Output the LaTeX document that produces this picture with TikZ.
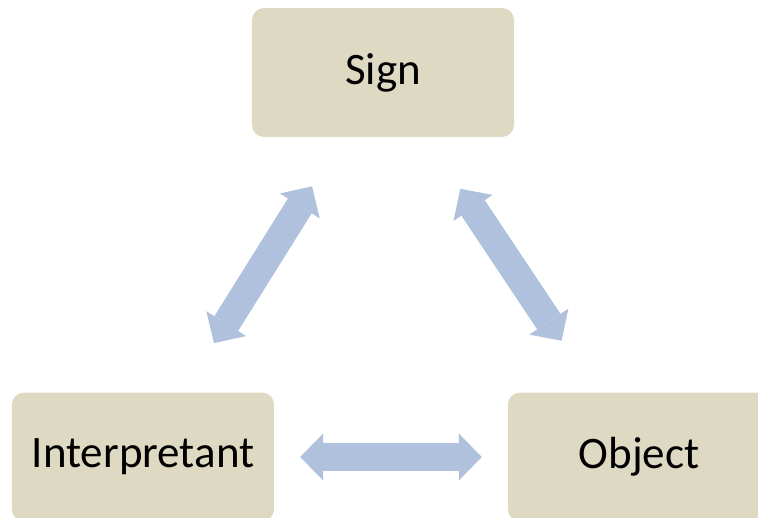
\documentclass[tikz,border=0pt]{standalone}
\usepackage{fontspec}
\setmainfont{Carlito}
\usetikzlibrary{arrows.meta}
\definecolor{boxtan}{RGB}{221,217,195}
\definecolor{linkblue}{RGB}{176,193,221}
\tikzstyle{concept} = [rectangle, rounded corners=12pt, minimum width=262pt, minimum height=129pt, text centered, fill=boxtan, font=\fontsize{45}{54}\selectfont]
\tikzstyle{link} = [draw=linkblue, line width=28pt, {Triangle[width=47pt,length=23pt,line width=0pt]}-{Triangle[width=47pt,length=23pt,line width=0pt]}]

\begin{document}
\begin{tikzpicture}[node distance=384.5pt]

    \useasboundingbox (-383pt,72.5pt) rectangle (375pt,-444.5pt);

    \node (sign) [concept] {Sign};
    \node (interp) [concept, below of=sign, xshift=-240pt] {Interpretant};
    \node (object) [concept, below of=sign, xshift=256pt] {Object};

    \draw [link, shorten <=58pt, shorten >=58pt] (sign) -- (interp);
    \draw [link, shorten <=62pt, shorten >=62pt] (sign) -- (object);
    \draw [link, shorten <=26pt, shorten >=26pt] (interp) -- (object);

\end{tikzpicture}
\end{document}
